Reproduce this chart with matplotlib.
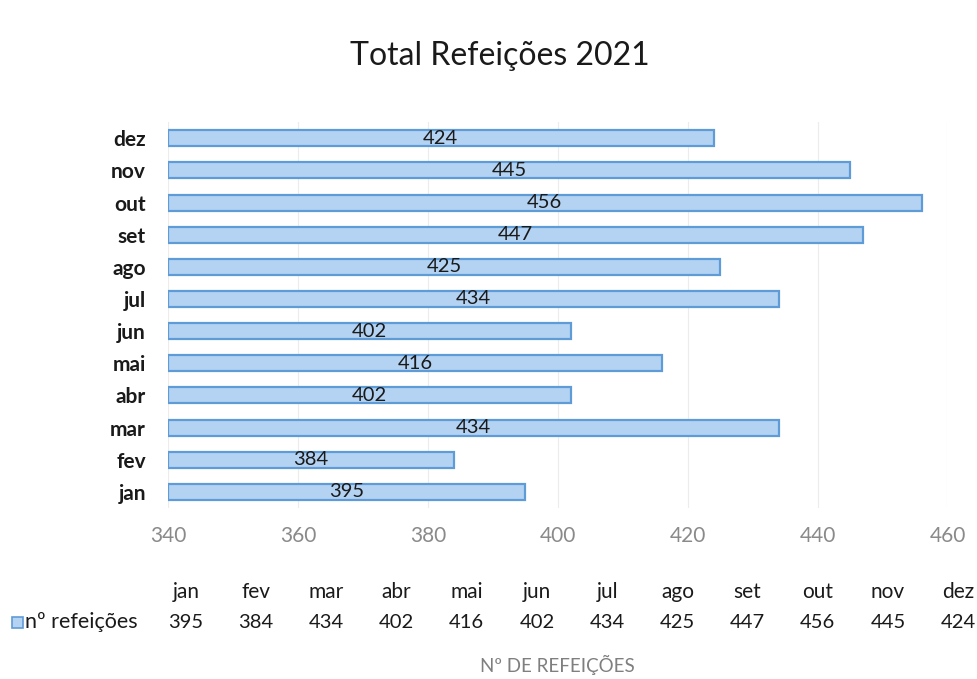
import matplotlib
matplotlib.use("Agg")
import matplotlib.pyplot as plt
from matplotlib.patches import Rectangle

months = ["jan", "fev", "mar", "abr", "mai", "jun", "jul", "ago", "set", "out", "nov", "dez"]
values = [395, 384, 434, 402, 416, 402, 434, 425, 447, 456, 445, 424]
xticks = [340, 360, 380, 400, 420, 440, 460]
title = "Total Refeições 2021"
xlabel = "Nº DE REFEIÇÕES"
series_name = "nº refeições"

plt.rcParams['font.family'] = ['Lato', 'DejaVu Sans']

fig = plt.figure(figsize=(9.78, 6.79), dpi=100)
ax = fig.add_axes([0.1718, 0.252, 0.797, 0.568])

fill = "#b4d3f3"
edge = "#5f9bd6"
y = list(range(len(months)))
bars = ax.barh(y, [v - xticks[0] for v in values], left=xticks[0], height=0.5,
               color=fill, edgecolor=edge, linewidth=1.6, zorder=3)
for yi, v in zip(y, values):
    ax.text((xticks[0] + v) / 2, yi, str(v), ha="center", va="center",
            fontsize=14.5, color="#1a1a1a", zorder=4)

ax.set_xlim(xticks[0], xticks[-1])
ax.set_ylim(-0.5, len(months) - 0.5)
ax.set_xticks(xticks)
ax.set_xticklabels([str(t) for t in xticks], fontsize=15, color="#8a8a8a")
ax.set_yticks(y)
ax.set_yticklabels(months, fontsize=15, fontweight="bold", color="#1a1a1a")
ax.tick_params(axis="both", length=0)
ax.tick_params(axis="x", pad=13)
ax.tick_params(axis="y", pad=16)
ax.grid(axis="x", color="#ececec", linewidth=0.8, zorder=0)
for s in ax.spines.values():
    s.set_visible(False)

fig.text(0.511, 0.918, title, ha="center", va="center", fontsize=23, color="#1a1a1a")

# data table
col0 = 186
dcol = 70.2
for i, (m, v) in enumerate(zip(months, values)):
    xc = (col0 + i * dcol) / 978
    fig.text(xc, 1 - 592 / 679, m, ha="center", va="center", fontsize=15, color="#1a1a1a")
    fig.text(xc, 1 - 622 / 679, str(v), ha="center", va="center", fontsize=14.5, color="#1a1a1a")
fig.text(25 / 978, 1 - 622 / 679, series_name, ha="left", va="center", fontsize=15.5, color="#1a1a1a")
fig.patches.append(Rectangle((12 / 978, 1 - 628 / 679), 11 / 978, 11 / 679,
                             transform=fig.transFigure, facecolor=fill, edgecolor=edge,
                             linewidth=1.2))

fig.text(557 / 978, 1 - 665 / 679, xlabel, ha="center", va="center", fontsize=13.5,
         color="#7f7f7f")

fig.savefig("out.png", dpi=100)
